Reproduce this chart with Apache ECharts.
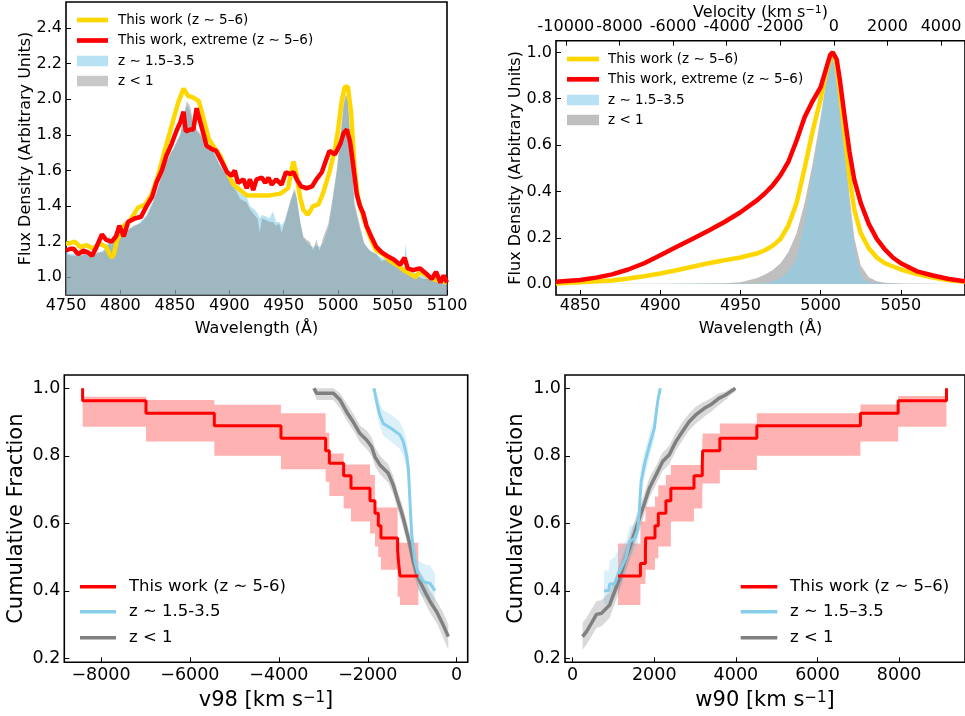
<!DOCTYPE html>
<html><head><meta charset="utf-8">
<script src="https://cdn.jsdelivr.net/npm/echarts@6/dist/echarts.min.js"></script>
<style>html,body{margin:0;padding:0;background:#fff}#c{width:965px;height:716px}</style>
</head><body><div id="c"></div>
<script>
// ---------------- DATA ----------------
// Panel A: stacked spectra around Hbeta + [OIII] (wavelength Å, flux)
const specYellowA = [[4750,1.19],[4753,1.19],[4758,1.20],[4763,1.17],[4769,1.18],[4775,1.16],[4781,1.19],[4787,1.17],[4790,1.13],[4792,1.11],[4794,1.13],[4797,1.21],[4803,1.29],[4809,1.32],[4816,1.39],[4823,1.41],[4829,1.47],[4835,1.58],[4841,1.72],[4847,1.85],[4853,1.98],[4858,2.06],[4862,2.02],[4867,2.01],[4872,1.99],[4876,1.90],[4881,1.78],[4885,1.74],[4892,1.68],[4898,1.59],[4904,1.52],[4910,1.49],[4916,1.46],[4922,1.46],[4928,1.46],[4937,1.46],[4947,1.47],[4954,1.50],[4957,1.60],[4959,1.65],[4962,1.57],[4965,1.45],[4968,1.38],[4972,1.35],[4977,1.40],[4982,1.41],[4986,1.47],[4992,1.59],[4997,1.72],[5000,1.83],[5003,1.98],[5006,2.07],[5009,2.07],[5012,1.92],[5015,1.62],[5018,1.45],[5023,1.34],[5029,1.23],[5035,1.15],[5041,1.13],[5048,1.09],[5054,1.07],[5060,1.04],[5066,1.02],[5071,1.00],[5075,1.03],[5081,1.01],[5087,0.99],[5094,0.98],[5100,0.97]];
const specRedA = [[4750,1.15],[4754,1.16],[4757,1.16],[4761,1.13],[4766,1.15],[4770,1.14],[4774,1.12],[4778,1.17],[4783,1.24],[4787,1.21],[4792,1.20],[4796,1.23],[4799,1.29],[4803,1.23],[4807,1.31],[4813,1.33],[4819,1.34],[4824,1.40],[4829,1.45],[4833,1.53],[4838,1.60],[4842,1.68],[4847,1.75],[4852,1.83],[4855,1.87],[4858,1.93],[4860,1.82],[4864,1.83],[4867,1.83],[4870,1.95],[4873,1.88],[4877,1.79],[4879,1.74],[4884,1.72],[4888,1.71],[4893,1.65],[4898,1.59],[4902,1.57],[4905,1.60],[4908,1.53],[4913,1.55],[4916,1.50],[4919,1.55],[4922,1.49],[4925,1.55],[4930,1.56],[4933,1.53],[4936,1.56],[4939,1.52],[4943,1.55],[4948,1.52],[4952,1.59],[4956,1.58],[4959,1.59],[4962,1.55],[4966,1.51],[4971,1.50],[4976,1.51],[4980,1.55],[4985,1.59],[4989,1.66],[4992,1.71],[4997,1.69],[5002,1.75],[5005,1.81],[5008,1.83],[5011,1.76],[5014,1.62],[5017,1.47],[5020,1.40],[5023,1.36],[5026,1.29],[5031,1.22],[5035,1.17],[5040,1.14],[5045,1.12],[5051,1.10],[5057,1.07],[5061,1.11],[5064,1.05],[5069,1.04],[5075,1.05],[5081,1.02],[5086,0.99],[5090,1.03],[5094,0.97],[5097,1.01],[5100,0.97]];
const specBlueA = [[4750,1.14],[4755,1.13],[4760,1.13],[4765,1.12],[4769,1.14],[4774,1.13],[4778,1.13],[4784,1.15],[4788,1.19],[4790,1.24],[4792,1.19],[4795,1.24],[4800,1.23],[4803,1.26],[4806,1.27],[4812,1.28],[4818,1.31],[4824,1.35],[4830,1.43],[4836,1.54],[4842,1.65],[4846,1.69],[4849,1.73],[4852,1.76],[4855,1.81],[4858,1.89],[4861,1.97],[4864,1.93],[4867,1.86],[4870,1.82],[4873,1.80],[4879,1.75],[4885,1.72],[4891,1.64],[4898,1.59],[4904,1.53],[4910,1.47],[4916,1.45],[4919,1.40],[4923,1.38],[4926,1.36],[4928,1.33],[4930,1.35],[4934,1.34],[4937,1.33],[4940,1.37],[4943,1.31],[4946,1.31],[4948,1.29],[4951,1.32],[4954,1.38],[4957,1.44],[4960,1.48],[4962,1.44],[4965,1.31],[4968,1.22],[4971,1.20],[4974,1.18],[4977,1.17],[4980,1.18],[4983,1.17],[4986,1.19],[4991,1.28],[4995,1.43],[4999,1.60],[5002,1.78],[5005,1.95],[5007,2.02],[5009,1.98],[5012,1.68],[5015,1.40],[5020,1.27],[5024,1.19],[5029,1.15],[5035,1.13],[5040,1.11],[5043,1.10],[5050,1.08],[5055,1.06],[5060,1.05],[5062,1.19],[5064,1.05],[5069,1.03],[5075,1.01],[5078,1.01],[5083,1.00],[5087,0.99],[5092,0.98],[5096,0.97],[5100,0.96]];
const specGrayA = [[4750,1.13],[4755,1.12],[4760,1.12],[4765,1.13],[4769,1.13],[4774,1.12],[4778,1.14],[4784,1.14],[4788,1.17],[4790,1.20],[4792,1.18],[4795,1.25],[4800,1.22],[4803,1.27],[4806,1.26],[4812,1.29],[4818,1.30],[4824,1.34],[4830,1.42],[4836,1.53],[4842,1.64],[4846,1.70],[4849,1.72],[4852,1.77],[4855,1.80],[4858,1.90],[4861,1.99],[4864,1.96],[4867,1.87],[4870,1.83],[4873,1.81],[4879,1.76],[4885,1.71],[4891,1.63],[4898,1.57],[4904,1.51],[4910,1.44],[4916,1.42],[4919,1.38],[4923,1.35],[4926,1.33],[4928,1.25],[4930,1.33],[4934,1.32],[4937,1.31],[4940,1.31],[4943,1.29],[4946,1.30],[4948,1.25],[4951,1.31],[4954,1.38],[4957,1.45],[4960,1.50],[4962,1.45],[4965,1.32],[4968,1.23],[4971,1.21],[4974,1.20],[4977,1.15],[4980,1.21],[4983,1.15],[4986,1.22],[4991,1.30],[4995,1.45],[4999,1.62],[5002,1.79],[5005,1.98],[5007,2.03],[5009,2.00],[5012,1.70],[5015,1.42],[5020,1.29],[5024,1.19],[5029,1.15],[5035,1.13],[5040,1.09],[5043,1.10],[5050,1.07],[5055,1.05],[5060,1.04],[5066,1.03],[5069,1.01],[5075,1.00],[5078,0.99],[5083,0.99],[5087,0.98],[5092,0.97],[5096,0.96],[5100,0.96]];

// Panel B: normalised [OIII] profiles
const oiiiYellowB = [[4835,0.003],[4850,0.008],[4860,0.012],[4870,0.016],[4880,0.024],[4890,0.034],[4900,0.046],[4910,0.06],[4920,0.075],[4930,0.09],[4940,0.103],[4950,0.115],[4960,0.132],[4965,0.145],[4970,0.165],[4975,0.195],[4980,0.255],[4985,0.35],[4990,0.5],[4995,0.66],[5000,0.8],[5003,0.9],[5006,0.98],[5008,1.0],[5010,0.94],[5012,0.83],[5015,0.645],[5018,0.46],[5021,0.32],[5025,0.22],[5030,0.155],[5035,0.115],[5040,0.09],[5050,0.063],[5060,0.043],[5070,0.028],[5080,0.017],[5090,0.01]];
const oiiiRedB = [[4835,0.010],[4850,0.018],[4860,0.028],[4870,0.042],[4880,0.063],[4890,0.09],[4900,0.125],[4910,0.16],[4920,0.195],[4930,0.23],[4940,0.268],[4950,0.31],[4960,0.36],[4965,0.39],[4970,0.425],[4975,0.47],[4980,0.53],[4985,0.62],[4990,0.72],[4995,0.79],[5000,0.85],[5003,0.92],[5006,0.99],[5007.5,1.0],[5010,0.97],[5012,0.88],[5015,0.72],[5018,0.57],[5021,0.45],[5025,0.35],[5030,0.26],[5035,0.195],[5040,0.15],[5045,0.115],[5050,0.09],[5060,0.055],[5070,0.037],[5080,0.022],[5090,0.012]];
const oiiiGrayB = [[4835,0.002],[4900,0.002],[4940,0.004],[4950,0.008],[4960,0.025],[4965,0.04],[4970,0.06],[4975,0.09],[4980,0.14],[4985,0.22],[4990,0.35],[4995,0.52],[5000,0.72],[5003,0.86],[5006,0.97],[5007.5,1.0],[5009,0.97],[5012,0.82],[5015,0.6],[5018,0.38],[5021,0.2],[5025,0.08],[5030,0.03],[5035,0.012],[5040,0.006],[5050,0.003],[5090,0.002]];
const oiiiBlueB = [[4908,0.002],[4950,0.002],[4960,0.003],[4965,0.005],[4970,0.012],[4975,0.025],[4980,0.055],[4985,0.11],[4990,0.27],[4995,0.48],[5000,0.70],[5003,0.84],[5006,0.96],[5007.5,1.0],[5009,0.96],[5012,0.80],[5015,0.57],[5018,0.34],[5021,0.16],[5024,0.06],[5027,0.02],[5030,0.008],[5040,0.002],[5090,0.002]];

// Panel C: v98 cumulative distributions
const redV98 = [-8413,-6988,-5451,-3952,-2947,-2864,-2542,-2377,-1950,-1838,-1763,-1703,-1328,-1305,-1275,-862];
const redV98Frac = [1.0,0.963,0.926,0.889,0.852,0.815,0.778,0.741,0.704,0.667,0.630,0.593,0.556,0.519,0.481,0.444];
const redV98Lo = [0.886,0.886,0.842,0.800,0.760,0.723,0.681,0.644,0.605,0.570,0.531,0.500,0.462,0.382,0.382,0.358];
const redV98Hi = [0.975,0.975,0.965,0.951,0.926,0.868,0.807,0.774,0.774,0.743,0.647,0.647,0.647,0.542,0.542,0.542];
const blueV98 = [-1860,-1800,-1726,-1651,-1463,-1276,-1200,-1125,-1087,-1050,-1012,-937,-862,-750,-600,-487];
const blueV98Frac = [1.0,0.96,0.92,0.896,0.88,0.862,0.842,0.80,0.763,0.664,0.565,0.486,0.447,0.427,0.422,0.40];
const blueV98Lo = [0.985,0.93,0.885,0.86,0.84,0.82,0.80,0.76,0.72,0.62,0.52,0.44,0.40,0.38,0.375,0.36];
const blueV98Hi = [1.0,0.985,0.955,0.935,0.92,0.90,0.88,0.845,0.81,0.71,0.61,0.53,0.49,0.48,0.475,0.45];
const grayV98 = [-3210,-3150,-2774,-2620,-2475,-2325,-2175,-2025,-1913,-1838,-1726,-1538,-1425,-1313,-1200,-1125,-1050,-975,-862,-750,-600,-450,-300,-188];
const grayV98Frac = [1.0,0.985,0.985,0.965,0.93,0.90,0.866,0.847,0.827,0.797,0.773,0.748,0.713,0.664,0.615,0.575,0.536,0.486,0.437,0.407,0.368,0.338,0.298,0.264];
const grayV98Lo = [0.99,0.965,0.965,0.94,0.905,0.875,0.84,0.82,0.80,0.77,0.745,0.72,0.685,0.635,0.585,0.545,0.505,0.455,0.405,0.375,0.335,0.305,0.26,0.225];
const grayV98Hi = [1.0,1.0,1.0,0.985,0.955,0.925,0.89,0.875,0.855,0.825,0.80,0.775,0.74,0.69,0.645,0.605,0.565,0.515,0.465,0.44,0.40,0.37,0.335,0.30];

// Panel D: w90 cumulative distributions
const redW90 = [1111,1661,1783,1790,2018,2099,2285,2407,2974,3177,3185,3607,4514,7052,7976,9160];
const redW90Frac = [0.444,0.481,0.519,0.556,0.593,0.630,0.667,0.704,0.741,0.778,0.815,0.852,0.889,0.926,0.963,1.0];
const redW90Lo = [0.358,0.420,0.440,0.462,0.496,0.531,0.531,0.605,0.644,0.700,0.718,0.758,0.800,0.842,0.886,0.886];
const redW90Hi = [0.540,0.605,0.630,0.649,0.679,0.713,0.743,0.773,0.773,0.850,0.866,0.896,0.926,0.952,0.977,0.977];
const blueW90 = [770,884,910,1030,1111,1313,1395,1516,1596,1637,1677,1758,1839,1920,2001,2042,2083,2147];
const blueW90Frac = [0.40,0.40,0.42,0.42,0.447,0.50,0.545,0.555,0.58,0.644,0.723,0.773,0.812,0.847,0.881,0.921,0.96,1.0];
const blueW90Lo = [0.36,0.36,0.375,0.38,0.40,0.45,0.50,0.51,0.535,0.60,0.68,0.735,0.775,0.815,0.85,0.895,0.94,0.99];
const blueW90Hi = [0.46,0.46,0.49,0.50,0.52,0.55,0.59,0.60,0.625,0.69,0.765,0.81,0.845,0.88,0.91,0.945,0.98,1.0];
const grayW90 = [243,340,462,584,705,827,908,1030,1151,1272,1394,1556,1718,1880,2042,2205,2367,2529,2691,2853,3015,3218,3380,3583,3745,3867,3988];
const grayW90Frac = [0.264,0.279,0.304,0.33,0.333,0.348,0.358,0.398,0.437,0.486,0.526,0.585,0.644,0.704,0.743,0.783,0.803,0.842,0.872,0.901,0.921,0.94,0.951,0.97,0.98,0.99,1.0];
const grayW90Lo = [0.225,0.24,0.265,0.29,0.295,0.31,0.32,0.36,0.40,0.45,0.49,0.55,0.61,0.675,0.715,0.755,0.775,0.815,0.845,0.875,0.895,0.915,0.93,0.95,0.965,0.98,0.99];
const grayW90Hi = [0.305,0.32,0.345,0.37,0.372,0.387,0.395,0.435,0.475,0.52,0.56,0.62,0.675,0.735,0.77,0.81,0.83,0.87,0.90,0.925,0.945,0.96,0.97,0.985,0.99,1.0,1.0];

// Tick labels
const ticksWaveA = [4750,4800,4850,4900,4950,5000,5050,5100];
const ticksFluxA = [1.0,1.2,1.4,1.6,1.8,2.0,2.2,2.4];
const ticksWaveB = [4850,4900,4950,5000,5050];
const ticksFluxB = [0.0,0.2,0.4,0.6,0.8,1.0];
const ticksVel = [-10000,-8000,-6000,-4000,-2000,0,2000,4000];
const ticksV98 = [-8000,-6000,-4000,-2000,0];
const ticksW90 = [0,2000,4000,6000,8000];
const ticksFrac = [0.2,0.4,0.6,0.8,1.0];

// ---------------- CHART ----------------
const FONT = 'DejaVu Sans';
const C_KMS = 299792.458, L0 = 5008.24;
const waveBMin = 4835, waveBMax = 5090;
const YEL = '#FFD700', RED = '#FF0000', SKY = '#87CEEB', GRY = '#808080';

function axis(o) {
  const a = {
    type: 'value', gridIndex: o.g, min: o.min, max: o.max, position: o.pos,
    axisLine: { show: false, onZero: false },
    axisTick: { show: true, inside: true, length: 5, customValues: o.ticks, lineStyle: { color: '#000', width: 1 } },
    axisLabel: { show: true, customValues: o.ticks, formatter: o.fmt, color: '#000', fontFamily: FONT, fontSize: o.fs, margin: o.margin },
    splitLine: { show: false },
    name: o.name, nameLocation: 'middle', nameGap: o.gap, nameMoveOverlap: false,
    nameTextStyle: Object.assign({ color: '#000', fontFamily: FONT, fontSize: o.nfs }, o.nts || {})
  };
  if (o.rot) a.nameRotate = o.rot;
  return a;
}
const fmt1 = v => Number(v).toFixed(1);
const fmtInt = v => String(Math.round(v));
const fmtMinus = v => String(Math.round(v)).replace('-', '\u2212');
function supName(txt, tail, fs) {
  return {
    name: '{t|' + txt + '}{s|\u22121}{t|' + tail + '}',
    nts: { rich: { t: { fontSize: fs, fontFamily: FONT, color: '#000' }, s: { fontSize: Math.round(fs * 0.7), fontFamily: FONT, color: '#000', verticalAlign: 'top' } } }
  };
}
const velTop = supName('Velocity (km s', ')', 16);
const v98Name = supName('v98 [km s', ']', 21);
const w90Name = supName('w90 [km s', ']', 21);

function line(idx, data, color, width, z, step) {
  return { type: 'line', xAxisIndex: idx, yAxisIndex: idx, data, symbol: 'none', showSymbol: false,
    lineStyle: { color, width }, itemStyle: { color }, z, step: step || false, silent: true, animation: false, clip: true };
}
function area(idx, data, color, z, origin) {
  return { type: 'line', xAxisIndex: idx, yAxisIndex: idx, data, symbol: 'none', showSymbol: false,
    lineStyle: { width: 0, opacity: 0 }, areaStyle: { color, opacity: 1, origin }, z, silent: true, animation: false };
}
// confidence band drawn as one polygon through the axis scales
function band(idx, xs, lo, hi, color, step, z) {
  const rows = xs.map((x, i) => [x, lo[i], hi[i]]);
  return {
    type: 'custom', xAxisIndex: idx, yAxisIndex: idx, data: rows, encode: { x: 0, y: [1, 2] },
    z, silent: true, animation: false, clip: true,
    renderItem: function (params, api) {
      if (params.dataIndex !== 0) return null;
      const top = [], bot = [];
      for (let i = 0; i < rows.length; i++) {
        const x = rows[i][0], l = rows[i][1], h = rows[i][2];
        if (i > 0 && step === 'start') {
          top.push(api.coord([rows[i - 1][0], h])); bot.push(api.coord([rows[i - 1][0], l]));
        } else if (i > 0 && step === 'end') {
          top.push(api.coord([x, rows[i - 1][2]])); bot.push(api.coord([x, rows[i - 1][1]]));
        }
        top.push(api.coord([x, h])); bot.push(api.coord([x, l]));
      }
      return { type: 'polygon', shape: { points: top.concat(bot.reverse()) }, style: { fill: color }, silent: true };
    }
  };
}
const pairs = (xs, ys) => xs.map((x, i) => [x, ys[i]]);

const vMin = (waveBMin - L0) / L0 * C_KMS, vMax = (waveBMax - L0) / L0 * C_KMS;

const option = {
  animation: false,
  backgroundColor: '#fff',
  textStyle: { fontFamily: FONT },
  grid: [
    { left: 66, top: 2, width: 381, height: 293, show: true, borderColor: '#000', borderWidth: 1.6, backgroundColor: 'transparent' },
    { left: 556, top: 40.7, width: 411.6, height: 254.3, show: true, borderColor: '#000', borderWidth: 1.6, backgroundColor: 'transparent' },
    { left: 64.3, top: 375, width: 403.4, height: 287.3, show: true, borderColor: '#000', borderWidth: 1.6, backgroundColor: 'transparent' },
    { left: 565, top: 375, width: 403, height: 287.3, show: true, borderColor: '#000', borderWidth: 1.6, backgroundColor: 'transparent' }
  ],
  xAxis: [
    axis({ g: 0, min: 4750, max: 5100, pos: 'bottom', ticks: ticksWaveA, fmt: fmtInt, fs: 16, margin: 3, name: 'Wavelength (Å)', gap: 26, nfs: 16 }),
    axis({ g: 1, min: waveBMin, max: waveBMax, pos: 'bottom', ticks: ticksWaveB, fmt: fmtInt, fs: 16, margin: 3, name: 'Wavelength (Å)', gap: 26, nfs: 16 }),
    axis({ g: 2, min: -8825, max: 248, pos: 'bottom', ticks: ticksV98, fmt: fmtMinus, fs: 17.5, margin: 4, name: v98Name.name, nts: v98Name.nts, gap: 28, nfs: 21 }),
    axis({ g: 3, min: -187, max: 9614, pos: 'bottom', ticks: ticksW90, fmt: fmtMinus, fs: 17.5, margin: 4, name: w90Name.name, nts: w90Name.nts, gap: 28, nfs: 21 }),
    axis({ g: 1, min: vMin, max: vMax, pos: 'top', ticks: ticksVel, fmt: fmtInt, fs: 16, margin: 6, name: velTop.name, nts: velTop.nts, gap: 20, nfs: 16 })
  ],
  yAxis: [
    axis({ g: 0, min: 0.9, max: 2.547, pos: 'left', ticks: ticksFluxA, fmt: fmt1, fs: 16, margin: 4, name: 'Flux Density (Arbitrary Units)', gap: 32, nfs: 16, rot: 90 }),
    axis({ g: 1, min: -0.047, max: 1.0505, pos: 'left', ticks: ticksFluxB, fmt: fmt1, fs: 16, margin: 4, name: 'Flux Density (Arbitrary Units)', gap: 32, nfs: 16, rot: 90 }),
    axis({ g: 2, min: 0.188, max: 1.0394, pos: 'left', ticks: ticksFrac, fmt: fmt1, fs: 17.5, margin: 4, name: 'Cumulative Fraction', gap: 37, nfs: 21, rot: 90 }),
    axis({ g: 3, min: 0.188, max: 1.0394, pos: 'left', ticks: ticksFrac, fmt: fmt1, fs: 17.5, margin: 4, name: 'Cumulative Fraction', gap: 38, nfs: 21, rot: 90 })
  ],
  series: [
    // Panel A
    area(0, specBlueA, 'rgba(135,206,235,0.6)', 1, 'start'),
    area(0, specGrayA, 'rgba(128,128,128,0.43)', 1, 'start'),
    line(0, specYellowA, YEL, 4.5, 2),
    line(0, specRedA, RED, 4.5, 3),
    // Panel B
    area(1, oiiiGrayB, 'rgba(128,128,128,0.5)', 1, 'auto'),
    area(1, oiiiBlueB, 'rgba(135,206,235,0.6)', 1, 'auto'),
    line(1, oiiiYellowB, YEL, 4.5, 2),
    line(1, oiiiRedB, RED, 4.5, 3),
    // Panel C
    band(2, redV98, redV98Lo, redV98Hi, 'rgba(255,0,0,0.3)', 'start', 1),
    band(2, blueV98, blueV98Lo, blueV98Hi, 'rgba(135,206,235,0.3)', null, 1),
    band(2, grayV98, grayV98Lo, grayV98Hi, 'rgba(128,128,128,0.3)', null, 1),
    line(2, pairs(grayV98, grayV98Frac), GRY, 3.5, 2),
    line(2, pairs(blueV98, blueV98Frac), SKY, 3, 2),
    line(2, pairs(redV98, redV98Frac), RED, 3, 3, 'start'),
    // Panel D
    band(3, redW90, redW90Lo, redW90Hi, 'rgba(255,0,0,0.3)', 'end', 1),
    band(3, blueW90, blueW90Lo, blueW90Hi, 'rgba(135,206,235,0.3)', null, 1),
    band(3, grayW90, grayW90Lo, grayW90Hi, 'rgba(128,128,128,0.3)', null, 1),
    line(3, pairs(grayW90, grayW90Frac), GRY, 3.5, 2),
    line(3, pairs(blueW90, blueW90Frac), SKY, 3, 2),
    line(3, pairs(redW90, redW90Frac), RED, 3, 3, 'end')
  ],
  graphic: []
};

// legends (handles + labels)
function legendRow(x, w, yc, kind, color, label, tx, fs) {
  const h = kind === 'patch' ? 10.5 : (kind === 'thick' ? 4.7 : 3.4);
  return [
    { type: 'rect', silent: true, z: 100, shape: { x: x, y: yc - h / 2, width: w, height: h }, style: { fill: color } },
    { type: 'text', silent: true, z: 100, x: tx, y: yc, style: { text: label, fill: '#000', font: fs + 'px "DejaVu Sans"', verticalAlign: 'middle', align: 'left' } }
  ];
}
const legA = [
  ['thick', YEL, 'This work (z \u223c 5\u20136)'],
  ['thick', RED, 'This work, extreme (z \u223c 5\u20136)'],
  ['patch', 'rgba(135,206,235,0.6)', 'z \u223c 1.5\u20133.5'],
  ['patch', 'rgba(128,128,128,0.43)', 'z < 1']
];
const legB = [
  ['thick', YEL, 'This work (z \u223c 5\u20136)'],
  ['thick', RED, 'This work, extreme (z \u223c 5\u20136)'],
  ['patch', 'rgba(135,206,235,0.6)', 'z \u223c 1.5\u20133.5'],
  ['patch', 'rgba(128,128,128,0.5)', 'z < 1']
];
const legC = [
  ['thin', RED, 'This work (z \u223c 5-6)'],
  ['thin', SKY, 'z \u223c 1.5-3.5'],
  ['thin', GRY, 'z < 1']
];
const legD = [
  ['thin', RED, 'This work (z \u223c 5\u20136)'],
  ['thin', SKY, 'z \u223c 1.5\u20133.5'],
  ['thin', GRY, 'z < 1']
];
const yA = [20, 40.5, 61, 81], yB = [59, 79.3, 100, 120], yC = [586.7, 611.7, 637.7];
legA.forEach((r, i) => option.graphic.push(...legendRow(77, 31, yA[i], r[0], r[1], r[2], 118, 13.5)));
legB.forEach((r, i) => option.graphic.push(...legendRow(567, 32, yB[i], r[0], r[1], r[2], 608, 13.5)));
legC.forEach((r, i) => option.graphic.push(...legendRow(80, 36, yC[i], r[0], r[1], r[2], 129, 16.5)));
legD.forEach((r, i) => option.graphic.push(...legendRow(740.7, 36.6, yC[i], r[0], r[1], r[2], 790, 16.5)));

const chart = echarts.init(document.getElementById('c'), null, { renderer: 'canvas' });
chart.setOption(option);
</script></body></html>
